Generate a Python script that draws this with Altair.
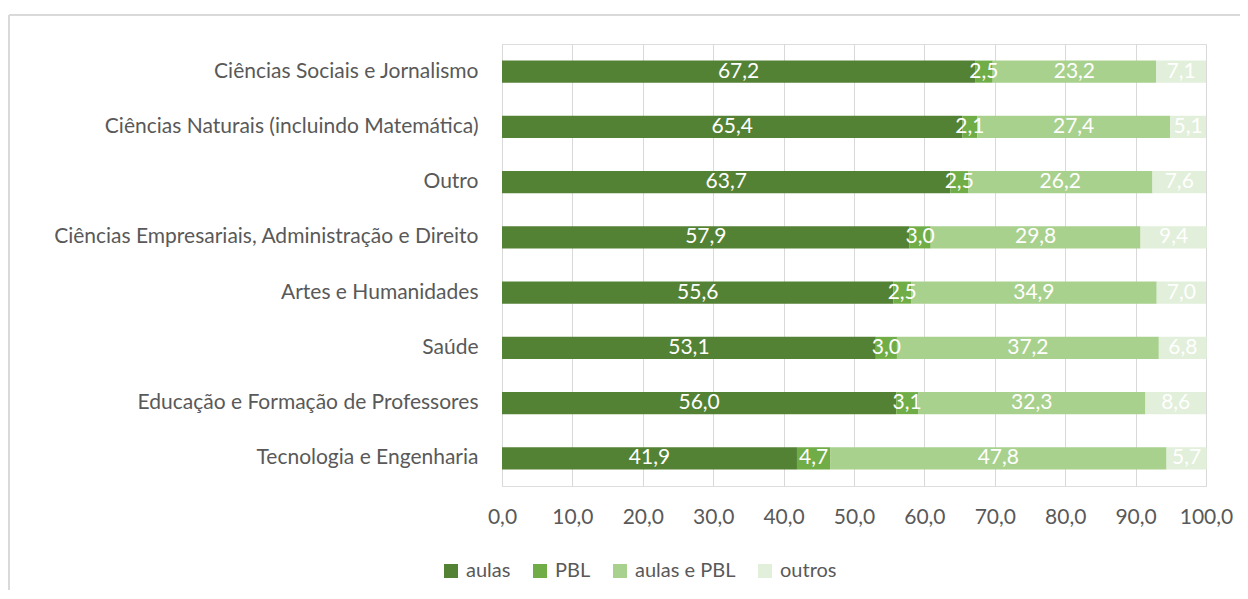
import altair as alt
import pandas as pd

categories = [
    "Ciências Sociais e Jornalismo",
    "Ciências Naturais (incluindo Matemática)",
    "Outro",
    "Ciências Empresariais, Administração e Direito",
    "Artes e Humanidades",
    "Saúde",
    "Educação e Formação de Professores",
    "Tecnologia e Engenharia",
]
series = ["aulas", "PBL", "aulas e PBL", "outros"]
aulas = [67.2, 65.4, 63.7, 57.9, 55.6, 53.1, 56.0, 41.9]
pbl = [2.5, 2.1, 2.5, 3.0, 2.5, 3.0, 3.1, 4.7]
aulas_pbl = [23.2, 27.4, 26.2, 29.8, 34.9, 37.2, 32.3, 47.8]
outros = [7.1, 5.1, 7.6, 9.4, 7.0, 6.8, 8.6, 5.7]
colors = ["#548235", "#70AD47", "#A9D18E", "#E2EFDA"]

rows = []
for s_i, (s, vals) in enumerate(zip(series, [aulas, pbl, aulas_pbl, outros])):
    for c, v in zip(categories, vals):
        rows.append({"cat": c, "serie": s, "ord": s_i, "val": v})
df = pd.DataFrame(rows)

FONT = "Lato"
GRAY = "#595959"
FS = 21

base = alt.Chart(df).transform_stack(
    stack="val", groupby=["cat"], as_=["x0", "x1"], sort=[alt.SortField("ord", "ascending")]
).transform_calculate(
    mid="(datum.x0 + datum.x1) / 2",
    lab="replace(format(datum.val, '.1f'), '.', ',')",
)

yenc = alt.Y("cat:N", sort=categories, title=None,
             scale=alt.Scale(paddingInner=0.6, paddingOuter=0.3),
             axis=alt.Axis(labelFont=FONT, labelFontSize=FS, labelColor=GRAY,
                           labelPadding=24, ticks=False, domain=False, grid=False,
                           labelLimit=490))

bars = base.mark_bar().encode(
    x=alt.X("x0:Q", title=None, scale=alt.Scale(domain=[0, 100], nice=False),
            axis=alt.Axis(values=list(range(0, 101, 10)), grid=True, gridColor="#d9d9d9",
                          domain=False, ticks=False, labelOverlap=False, labelFlush=False,
                          labelBound=False,
                          labelFont=FONT, labelFontSize=FS, labelColor=GRAY, labelPadding=20,
                          labelExpr="replace(format(datum.value, '.1f'), '.', ',')")),
    x2="x1:Q",
    y=yenc,
    color=alt.Color("serie:N", sort=series,
                    scale=alt.Scale(domain=series, range=colors),
                    legend=alt.Legend(title=None, orient="none", direction="horizontal",
                                      legendX=-61, legendY=517,
                                      symbolType="square", symbolSize=196,
                                      symbolStrokeWidth=0, symbolOpacity=1,
                                      labelFont=FONT, labelFontSize=20, labelColor=GRAY,
                                      columnPadding=19, labelOffset=5)),
    order=alt.Order("ord:Q"),
)

texts = base.mark_text(color="white", font=FONT, fontSize=FS, baseline="middle").encode(
    x="mid:Q",
    y=alt.Y("cat:N", sort=categories),
    text="lab:N",
)

frame = alt.Chart(df).mark_rect(fill=None, stroke="#d9d9d9", strokeWidth=1).encode(
    x=alt.value(-493), x2=alt.value(760), y=alt.value(-29), y2=alt.value(560)
)

chart = alt.layer(frame, bars, texts).properties(
    width=704, height=442,
    autosize=alt.AutoSizeParams(type="none"),
    padding={"left": 494, "top": 36, "right": 34, "bottom": 104},
).configure_view(stroke=None).configure(background="white")

chart.save("out.html", embed_options={"renderer": "svg", "actions": False})
